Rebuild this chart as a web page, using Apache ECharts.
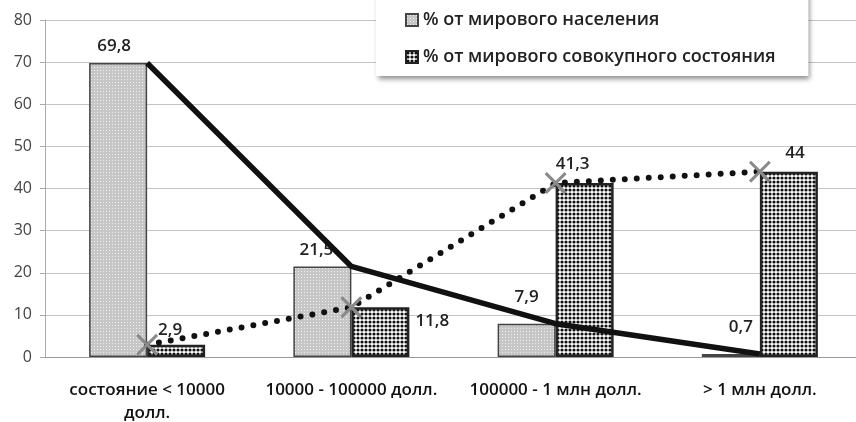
<!DOCTYPE html>
<html>
<head>
<meta charset="utf-8">
<script src="https://cdn.jsdelivr.net/npm/echarts@6/dist/echarts.min.js"></script>
<style>
  html, body { margin: 0; padding: 0; background: #fff; }
  #main { width: 856px; height: 422px; }
</style>
</head>
<body>
<div id="main"></div>
<script>
// данные
var categories = ["состояние < 10000\nдолл.", "10000 - 100000 долл.", "100000 - 1 млн долл.", "> 1 млн долл."];
var population = [69.8, 21.5, 7.9, 0.7];
var wealth = [2.9, 11.8, 41.3, 44];
var yTicks = [0, 10, 20, 30, 40, 50, 60, 70, 80];

// текстуры для столбцов
function makePattern(size, draw) {
  var c = document.createElement("canvas");
  c.width = size;
  c.height = size;
  var ctx = c.getContext("2d");
  draw(ctx);
  return { image: c, repeat: "repeat" };
}
var grayPattern = makePattern(3, function (ctx) {
  ctx.fillStyle = "#c6c6c6";
  ctx.fillRect(0, 0, 3, 3);
  ctx.fillStyle = "#efefef";
  ctx.fillRect(1, 1, 1, 1);
});
var dotPattern = makePattern(4, function (ctx) {
  ctx.fillStyle = "#ffffff";
  ctx.fillRect(0, 0, 4, 4);
  ctx.fillStyle = "#111111";
  ctx.beginPath();
  ctx.arc(2, 2, 1.6, 0, Math.PI * 2);
  ctx.fill();
});

function fmt(v) {
  return String(v).replace(".", ",");
}

var labelFont = { fontFamily: "Open Sans", fontWeight: 600, fontSize: 17, color: "#222" };

// индивидуальные подписи
var popData = population.map(function (v, i) {
  var dist = [8, 8, 18, 18][i];
  return { value: v, label: { distance: dist, offset: [[-4, 0], [-6, 0], [0, 0], [10, 0]][i] } };
});
var wealthData = wealth.map(function (v, i) {
  var item = { value: v };
  if (i === 1) {
    item.label = { position: [64, 5], align: "left", verticalAlign: "top" };
  } else if (i === 0) {
    item.label = { distance: 6, offset: [-6, 0] };
  } else {
    item.label = { distance: 10, offset: [[0, 0], [0, 0], [-12, 0], [6, 0]][i] };
  }
  return item;
});

var myChart = echarts.init(document.getElementById("main"));
myChart.setOption({
  animation: false,
  backgroundColor: "#fff",
  grid: { left: 45, right: -6, top: 20, bottom: 65, containLabel: false, outerBoundsMode: "none" },
  legend: {
    orient: "vertical",
    left: 376,
    top: -10,
    padding: [21, 33, 10, 29],
    itemGap: 19,
    itemWidth: 12,
    itemHeight: 12,
    icon: "rect",
    backgroundColor: "#fff",
    shadowColor: "rgba(0,0,0,0.45)",
    shadowBlur: 5,
    shadowOffsetX: 2,
    shadowOffsetY: 3,
    textStyle: { fontFamily: "Open Sans", fontWeight: 600, fontSize: 18, color: "#222" },
    data: ["% от мирового населения", "% от мирового совокупного состояния"]
  },
  xAxis: {
    type: "category",
    data: categories,
    axisLine: { lineStyle: { color: "#999" } },
    axisTick: { length: 5, lineStyle: { color: "#999" } },
    axisLabel: {
      margin: 22,
      interval: 0,
      fontFamily: "Open Sans",
      fontWeight: 600,
      fontSize: 17,
      color: "#111",
      lineHeight: 23
    }
  },
  yAxis: {
    type: "value",
    min: yTicks[0],
    max: yTicks[yTicks.length - 1],
    interval: 10,
    axisLine: { show: true, lineStyle: { color: "#aaa" } },
    axisTick: { show: true, length: 5, lineStyle: { color: "#aaa" } },
    splitLine: { lineStyle: { color: "#c4c4c4" } },
    axisLabel: { fontFamily: "Open Sans", fontSize: 16, color: "#444", margin: 13 }
  },
  series: [
    {
      name: "% от мирового населения",
      type: "bar",
      data: popData,
      barWidth: 58,
      barGap: "0%",
      itemStyle: { color: grayPattern, borderColor: "#444", borderWidth: 1.5 },
      label: Object.assign({ show: true, position: "top", formatter: function (p) { return fmt(p.value); } }, labelFont)
    },
    {
      name: "% от мирового совокупного состояния",
      type: "bar",
      data: wealthData,
      barWidth: 58,
      itemStyle: { color: dotPattern, borderColor: "#222", borderWidth: 2.5 },
      label: Object.assign({ show: true, position: "top", formatter: function (p) { return fmt(p.value); } }, labelFont)
    },
    {
      name: "население (линия)",
      type: "line",
      data: population,
      symbol: "none",
      lineStyle: { color: "#111", width: 5.5 },
      z: 5
    },
    {
      name: "состояние (линия)",
      type: "line",
      data: wealth,
      symbol: "path://M0,1 L1,0 L10,9 L9,10 Z M9,0 L10,1 L1,10 L0,9 Z",
      symbolSize: 22,
      itemStyle: { color: "#8a8a8a" },
      lineStyle: { color: "#111", width: 6, type: [0, 12], cap: "round" },
      z: 5
    }
  ]
});
</script>
</body>
</html>
